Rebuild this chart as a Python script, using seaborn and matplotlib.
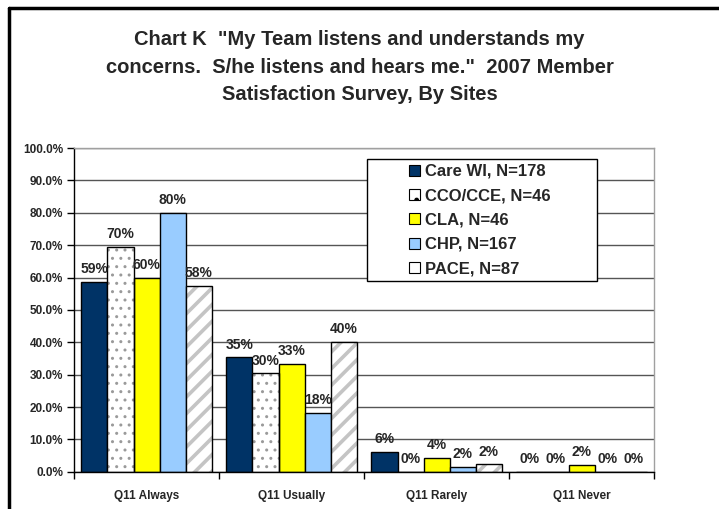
import pandas as pd
import seaborn as sns
import matplotlib.pyplot as plt
from matplotlib.lines import Line2D
from matplotlib.patches import Patch, Rectangle
from matplotlib.ticker import FixedLocator

# chart values (percent)
categories = ["Q11 Always", "Q11 Usually", "Q11 Rarely", "Q11 Never"]
sites = ["Care WI, N=178", "CCO/CCE, N=46", "CLA, N=46", "CHP, N=167", "PACE, N=87"]
care_wi = [58.7, 35.4, 6.2, 0.0]
cco_cce = [69.6, 30.4, 0.0, 0.0]
cla = [60.0, 33.3, 4.4, 2.2]
chp = [80.0, 18.2, 1.6, 0.0]
pace = [57.5, 40.2, 2.4, 0.0]
shown_labels = [
    ["59%", "35%", "6%", "0%"],
    ["70%", "30%", "0%", "0%"],
    ["60%", "33%", "4%", "2%"],
    ["80%", "18%", "2%", "0%"],
    ["58%", "40%", "2%", "0%"],
]

colors = ["#003366", "#FFFFFF", "#FFFF00", "#99CCFF", "#FFFFFF"]
hatches = [None, "..", None, None, "//"]
hatch_colors = [None, "#9A9A9A", None, None, "#C4C4C4"]
hatch_widths = [None, 1.0, None, None, 2.6]

rows = []
for site, vals in zip(sites, [care_wi, cco_cce, cla, chp, pace]):
    for cat, v in zip(categories, vals):
        rows.append({"cat": cat, "site": site, "pct": v})
df = pd.DataFrame(rows)

sns.set_theme(style="white")
plt.rcParams["font.family"] = ["Liberation Sans", "DejaVu Sans"]
plt.rcParams["font.weight"] = "bold"
plt.rcParams["hatch.linewidth"] = 1.0

fig = plt.figure(figsize=(7.19, 5.09), dpi=100)
ax = fig.add_axes([0.103, 0.073, 0.807, 0.636])

sns.barplot(data=df, x="cat", y="pct", hue="site", hue_order=sites,
            order=categories, palette=colors, width=0.9,
            edgecolor="black", linewidth=1, saturation=1, legend=False, ax=ax)
bar_conts = list(ax.containers)

# patterned series: hatch in grey, black outline drawn on top
for i, cont in enumerate(bar_conts):
    if hatches[i] is None:
        continue
    for bar in cont:
        bar.set_hatch(hatches[i])
        bar.set_edgecolor(hatch_colors[i])
        bar.set_linewidth(0)
        if hasattr(bar, "set_hatch_linewidth"):
            bar.set_hatch_linewidth(hatch_widths[i])
        ax.bar(bar.get_x(), bar.get_height(), width=bar.get_width(), align="edge",
               color="none", edgecolor="black", linewidth=1, zorder=3)

for cont, labs in zip(bar_conts, shown_labels):
    ax.bar_label(cont, labels=labs, padding=4, fontsize=10, fontweight="bold")

ax.set_ylim(0, 100)
ax.set_xlim(-0.5, 3.5)
ax.set_yticks(range(0, 101, 10))
ax.set_yticklabels([f"{v:.1f}%" for v in range(0, 101, 10)], fontsize=8.5, fontweight="bold")
ax.set_xticks(range(4))
ax.set_xticklabels(categories, fontsize=8.5, fontweight="bold")
ax.xaxis.set_minor_locator(FixedLocator([-0.5, 0.5, 1.5, 2.5, 3.5]))
ax.tick_params(axis="x", which="major", length=0, pad=13)
ax.tick_params(axis="x", which="minor", length=5, width=1, color="black", direction="out", bottom=True)
ax.tick_params(axis="y", length=5, width=1, color="black", direction="out", left=True, pad=3)
ax.set_xlabel("")
ax.set_ylabel("")

ax.grid(axis="y", color="#555555", linewidth=1)
ax.set_axisbelow(True)
ax.spines["left"].set_color("black")
ax.spines["bottom"].set_color("black")
ax.spines["top"].set_color("#A0A0A0")
ax.spines["right"].set_color("#A0A0A0")
for s in ax.spines.values():
    s.set_linewidth(1)

# legend box
ax.add_patch(Rectangle((0.505, 0.590), 0.397, 0.376, transform=ax.transAxes,
                       facecolor="white", edgecolor="black", linewidth=1, zorder=4))
handles = []
for i, site in enumerate(sites):
    h = Patch(facecolor=colors[i], edgecolor="black", linewidth=0.8, label=site)
    if hatches[i] is not None:
        h.set_hatch("." if i == 1 else "/")
        if hasattr(h, "set_hatchcolor"):
            h.set_hatchcolor("#B0B0B0")
    handles.append(h)
leg = ax.legend(handles=handles, loc="upper left", bbox_to_anchor=(0.578, 0.951),
                frameon=False, fontsize=12, handlelength=0.65, handleheight=0.65,
                handletextpad=0.3, labelspacing=0.56, borderpad=0, borderaxespad=0)
leg.set_zorder(5)
for t in leg.get_texts():
    t.set_fontweight("bold")

fig.text(0.5, 0.868, "Chart K  \"My Team listens and understands my\nconcerns.  S/he listens and hears me.\"  2007 Member\nSatisfaction Survey, By Sites",
         ha="center", va="center", fontsize=14.5, fontweight="bold", linespacing=1.55)

# outer frame (left and top edges)
fig.add_artist(Line2D([0.0132, 0.0132], [0, 0.985], transform=fig.transFigure, color="black", linewidth=2.5))
fig.add_artist(Line2D([0.0132, 1.0], [0.985, 0.985], transform=fig.transFigure, color="black", linewidth=2.5))

fig.savefig("out.png", dpi=100)
